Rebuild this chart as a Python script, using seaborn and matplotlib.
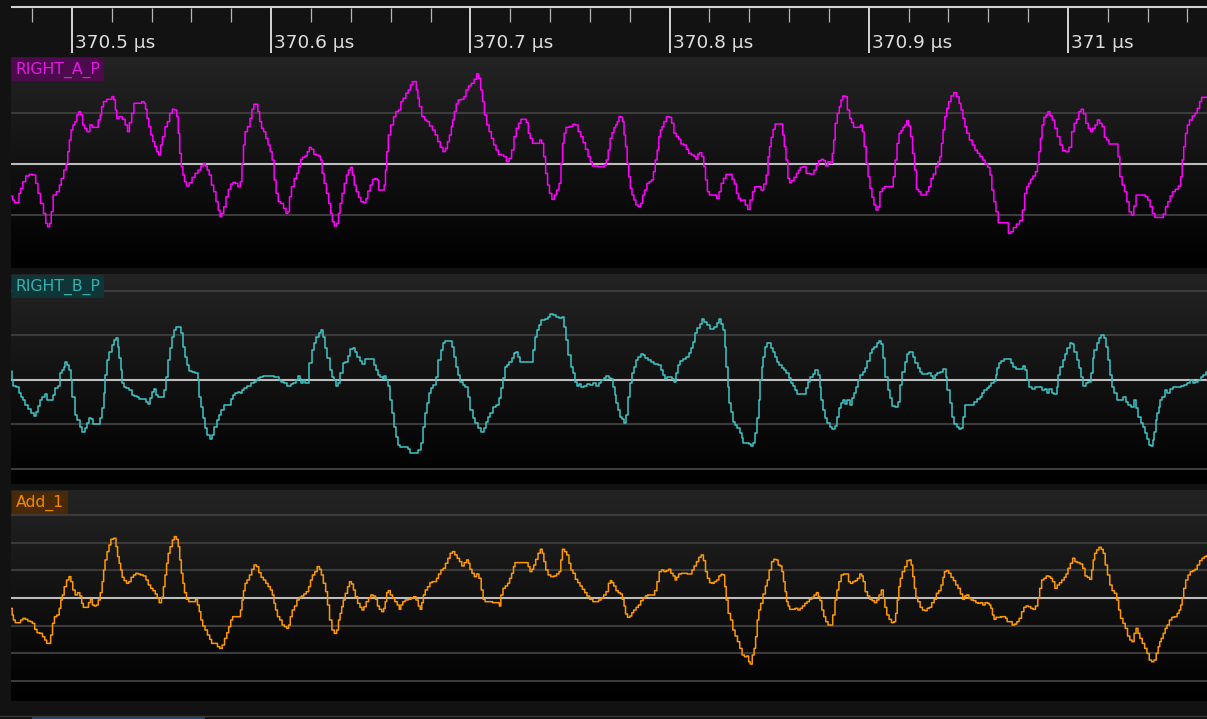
import numpy as np
import matplotlib
matplotlib.use("Agg")
import matplotlib.pyplot as plt
import matplotlib.transforms as mtransforms
from matplotlib.colors import LinearSegmentedColormap
from matplotlib.lines import Line2D
from matplotlib.patches import Rectangle
import seaborn as sns

# ---------------------------------------------------------------- data
# time axis: ns after 370.4 us ; amplitudes in raw counts (per-channel scale below)
T0_US = 370.4

RIGHT_A_P_t_ns = [
    69.8, 70.7, 71.7, 73.1, 73.7, 74.7, 76.0, 77.6, 79.5, 81.1,
    82.5, 83.4, 85.0, 86.4, 87.3, 88.3, 89.3, 89.9, 91.2, 93.2,
    94.2, 95.1, 96.7, 97.5, 98.3, 99.1, 100.0, 101.0, 102.0, 102.9,
    103.9, 104.9, 105.9, 106.8, 108.2, 109.8, 110.7, 112.7, 113.7, 114.7,
    115.1, 116.6, 118.2, 119.6, 120.5, 121.5, 122.1, 122.9, 124.4, 126.0,
    127.4, 128.4, 129.3, 130.7, 131.5, 134.2, 135.8, 136.6, 137.3, 138.1,
    139.1, 140.1, 141.1, 142.0, 143.0, 144.0, 145.0, 145.9, 147.5, 148.3,
    149.8, 151.0, 152.2, 153.0, 153.7, 154.5, 155.3, 156.1, 156.9, 158.1,
    159.6, 161.0, 162.6, 163.9, 165.5, 166.5, 167.4, 168.4, 169.4, 170.6,
    171.7, 172.9, 173.9, 174.8, 175.6, 176.8, 177.9, 179.1, 180.3, 181.4,
    182.6, 184.0, 185.0, 185.7, 186.5, 187.3, 188.9, 189.9, 190.8, 191.8,
    192.8, 193.8, 194.7, 195.7, 196.7, 197.9, 199.0, 200.0, 201.0, 202.0,
    203.0, 204.1, 205.5, 206.9, 208.0, 208.8, 209.6, 210.8, 212.3, 213.3,
    214.3, 215.3, 216.2, 217.6, 218.6, 219.7, 220.7, 222.1, 223.1, 224.4,
    225.2, 226.0, 227.2, 228.3, 229.5, 230.3, 231.1, 232.3, 233.4, 234.2,
    235.0, 236.1, 237.3, 238.3, 239.3, 240.3, 241.2, 242.2, 243.2, 244.6,
    245.5, 247.1, 248.1, 249.0, 250.4, 251.4, 252.9, 253.7, 254.3, 256.3,
    257.2, 257.6, 258.4, 259.2, 260.8, 262.1, 263.1, 264.7, 265.5, 267.0,
    268.2, 269.4, 270.5, 271.3, 272.5, 273.3, 274.0, 274.8, 276.4, 277.8,
    278.7, 280.3, 281.7, 283.0, 284.2, 285.6, 286.9, 288.1, 288.9, 290.1,
    290.8, 291.4, 292.4, 293.4, 294.4, 296.3, 297.3, 298.3, 299.8, 301.2,
    302.6, 303.7, 304.7, 305.7, 306.5, 307.6, 308.8, 310.0, 311.1, 312.3,
    313.5, 314.7, 316.2, 317.4, 318.8, 320.1, 321.3, 322.5, 323.6, 324.8,
    326.0, 327.5, 328.7, 329.5, 330.6, 331.8, 334.4, 335.3, 336.3, 337.3,
    338.3, 339.2, 340.2, 341.6, 342.8, 343.9, 345.1, 345.9, 346.7, 347.4,
    348.6, 350.9, 352.1, 353.3, 354.9, 356.0, 357.2, 358.4, 359.8, 360.7,
    361.7, 366.6, 367.8, 368.6,
    369.8, 370.5, 371.7, 372.5, 373.5, 374.0, 375.2, 376.0, 376.8, 377.5,
    378.3, 379.1, 379.9, 380.7, 381.6, 382.6, 383.6, 384.9, 386.1, 386.9,
    388.0, 389.2, 390.4, 391.5, 392.3, 393.3, 394.2, 395.0, 395.8, 396.6,
    397.7, 399.1, 400.5, 401.6, 402.8, 404.0, 405.1, 406.3, 407.9, 409.0,
    410.2, 411.7, 412.9, 413.7, 414.7, 415.6, 416.8, 417.6, 418.5, 419.5,
    420.5, 423.0, 424.4, 425.3, 426.5, 427.7, 428.9, 430.8, 432.0, 433.1,
    434.1, 435.1, 436.2, 437.4, 438.6, 439.9, 440.9, 442.4, 443.2, 445.2,
    446.7, 447.9, 449.1, 449.8, 450.6, 451.4, 452.5, 453.5, 456.4, 457.2,
    458.0, 458.9, 459.9, 460.7, 461.8, 463.2, 464.2, 465.2, 466.1, 468.1,
    469.0, 471.9, 473.1, 474.3, 475.5, 476.8, 477.8, 478.8, 480.2, 481.3,
    482.1, 482.7, 483.6, 484.8, 485.6, 486.5, 487.5, 488.7, 489.8, 491.0,
    491.8, 492.9, 495.3, 496.3, 497.2, 498.2, 499.2, 500.1, 501.1, 502.1,
    503.1, 504.2, 505.0, 506.2, 507.3, 508.5, 511.8, 512.8, 513.7, 514.7,
    515.7, 516.7, 517.6, 518.6, 519.6, 520.5, 521.5, 522.5, 523.5, 524.4,
    525.6, 526.8, 528.3, 529.5, 530.7, 531.8, 533.0, 534.2, 535.2, 536.1,
    536.9, 537.7, 538.7, 539.6, 540.6, 542.0, 543.3, 544.9, 545.8, 546.8,
    547.8, 548.7, 549.7, 551.3, 552.6, 554.0, 555.1, 556.5, 557.8, 559.0,
    560.4, 561.3, 562.3, 563.3, 564.4, 565.6, 569.5, 570.7, 571.8, 573.4,
    574.9, 576.5, 577.7, 578.8, 579.8, 580.8, 581.7, 583.1, 584.3, 585.1,
    585.8, 586.6, 587.4, 588.5, 589.5, 590.5, 591.5, 592.8, 594.0, 595.3,
    596.7, 597.9, 599.8, 601.2, 602.5, 603.7, 604.9, 606.0, 607.2, 608.4,
    609.5, 610.9, 611.9, 613.0, 614.2, 615.4, 616.5, 617.7, 618.9, 620.0,
    621.2, 624.7, 625.5, 626.6, 627.8, 629.0, 630.1, 631.3, 632.5, 633.6,
    634.8, 638.1, 639.5, 640.7, 641.8, 643.0, 644.2, 647.3, 648.4, 649.6,
    650.7, 651.9, 653.1, 654.6, 656.2, 657.0, 657.7, 658.5, 659.5, 660.4,
    661.6, 663.2, 664.3, 665.5, 666.7, 667.5, 669.9,
]
RIGHT_A_P_counts = [
    -96, -108, -116, -116, -88, -73, -53, -36, -31, -33,
    -58, -88, -118, -148, -178, -188, -178, -143, -93, -83,
    -63, -43, -18, 2, 37, 72, 102, 117, 127, 147,
    157, 147, 117, 107, 97, 117, 110, 110, 132, 147,
    172, 187, 194, 194, 202, 192, 162, 137, 142, 134,
    117, 97, 124, 152, 182, 182, 187, 182, 164, 137,
    112, 87, 67, 52, 37, 27, 57, 82, 112, 127,
    152, 164, 162, 142, 92, 32, -8, -33, -53, -66,
    -56, -40, -28, -18, -6, 2, -6, -18, -33, -63,
    -83, -113, -138, -158, -148, -128, -98, -76, -60, -55,
    -58, -68, -53, 2, 57, 97, 112, 137, 164, 179,
    179, 157, 127, 107, 97, 77, 57, 37, 12, -48,
    -88, -113, -118, -133, -148, -143, -98, -68, -43, -28,
    -8, 14, 20, 24, 37, 50, 44, 29, 27, 24,
    12, -28, -58, -88, -118, -148, -173, -186, -178, -148,
    -118, -88, -58, -33, -18, -10, -33, -63, -83, -100,
    -113, -116, -103, -81, -63, -46, -44, -48, -78, -78,
    -63, -18, 37, 87, 117, 142, 157, 162, 187, 197,
    212, 222, 237, 247, 247, 222, 197, 172, 142, 132,
    127, 114, 102, 87, 67, 50, 37, 47, 67, 87,
    112, 132, 157, 180, 192, 194, 202, 222, 234, 242,
    254, 270, 257, 222, 187, 147, 117, 97, 77, 57,
    42, 29, 27, 22, 7, 17, 42, 82, 107, 122,
    134, 134, 124, 92, 77, 62, 62, 72, 62, 22,
    -28, -63, -88, -106, -93, -78, -58, 2, 62, 92,
    110, 112, 119, 117, 97, 82, 64, 44, 22, 7,
    -6, -8, -3, 12,
    42, 77, 94, 109, 117, 127, 142, 140, 127, 87,
    52, 2, -38, -73, -93, -108, -123, -128, -118, -93,
    -78, -58, -53, -48, -23, 12, 42, 82, 102, 112,
    127, 142, 140, 122, 92, 82, 74, 60, 57, 44,
    32, 27, 22, 14, 30, 34, 22, -8, -48, -83,
    -93, -93, -103, -83, -58, -43, -31, -31, -46, -60,
    -88, -103, -110, -108, -123, -136, -108, -83, -68, -68,
    -78, -60, -33, 22, 52, 80, 104, 120, 120, 87,
    52, 12, -43, -56, -50, -40, -28, -18, -10, -8,
    -28, -30, -18, -3, 10, 14, 10, -6, 7, 2,
    32, 72, 122, 152, 172, 192, 204, 202, 162, 137,
    124, 110, 110, 117, 97, 52, 2, -38, -73, -100,
    -123, -138, -128, -83, -73, -68, -68, -38, 12, 62,
    92, 100, 110, 117, 130, 114, 82, 32, -18, -76,
    -83, -93, -93, -83, -68, -43, -30, -8, 7, 22,
    62, 102, 142, 167, 187, 204, 214, 202, 182, 162,
    137, 112, 92, 72, 57, 42, 32, 22, 12, 0,
    -10, -33, -78, -113, -143, -176, -176, -208, -203, -190,
    -180, -170, -138, -88, -68, -58, -46, -36, -23, 2,
    37, 77, 117, 140, 147, 157, 144, 132, 107, 82,
    57, 40, 37, 50, 97, 122, 134, 157, 164, 150,
    122, 107, 97, 107, 117, 132, 122, 112, 80, 72,
    60, 60, 22, -38, -63, -83, -113, -143, -153, -126,
    -93, -93, -98, -108, -128, -148, -160, -160, -150, -128,
    -113, -96, -83, -76, -66, -38, 12, 52, 92, 117,
    132, 144, 152, 167, 187, 200, 200,
]

RIGHT_B_P_t_ns = [
    69.8, 70.2, 70.8, 72.7, 73.7, 74.7, 76.0, 77.2, 78.5, 79.9,
    81.5, 82.5, 83.4, 84.6, 85.8, 86.9, 87.7, 89.7, 90.8, 92.2,
    93.6, 94.4, 95.5, 96.3, 97.1, 98.1, 99.1, 99.6, 100.6, 102.0,
    103.4, 104.5, 105.9, 106.9, 108.0, 109.2, 110.4, 111.2, 113.7, 114.7,
    115.7, 116.3, 117.0, 118.2, 119.4, 120.5, 121.7, 122.5, 123.3, 124.1,
    124.8, 125.6, 126.4, 128.0, 129.5, 130.7, 131.9, 133.0, 134.2, 136.2,
    137.7, 138.5, 139.7, 140.8, 141.6, 142.8, 144.0, 145.5, 146.7, 147.9,
    148.7, 149.4, 150.6, 151.4, 152.8, 154.1, 155.3, 156.1, 157.3, 158.4,
    159.6, 161.2, 162.7, 163.5, 164.3, 165.1, 166.2, 167.4, 168.6, 169.7,
    170.9, 172.1, 173.3, 174.4, 175.6, 176.8, 179.1, 180.3, 181.0, 182.6,
    183.8, 185.0, 185.9, 186.9, 188.9, 190.5, 191.8, 192.8, 193.8, 195.1,
    196.3, 200.6, 202.2, 203.3, 204.5, 205.7, 207.3, 208.4, 209.4, 210.4,
    211.9, 212.7, 213.9, 214.7, 215.5, 216.2, 217.4, 218.6, 219.7, 220.9,
    222.1, 223.3, 224.4, 225.6, 226.8, 227.6, 228.8, 229.9, 231.1, 232.3,
    233.1, 234.2, 235.4, 236.6, 237.8, 238.9, 240.1, 241.7, 242.6, 243.6,
    245.2, 246.3, 247.5, 251.0, 251.8, 253.0, 254.1, 255.3, 256.5, 257.2,
    258.4, 259.2, 260.2, 261.1, 262.1, 263.1, 264.3, 265.4, 268.0, 269.0,
    270.5, 272.9, 274.4, 275.8, 276.8, 277.7, 278.7, 279.9, 280.7, 282.2,
    283.4, 284.6, 285.6, 286.5, 288.1, 290.4, 291.4, 292.4, 293.4, 294.4,
    295.5, 296.7, 298.3, 299.4, 300.6, 301.8, 302.9, 304.5, 306.0, 307.2,
    308.4, 309.5, 310.7, 311.9, 313.5, 314.8, 315.8, 317.0, 317.8, 318.9,
    320.1, 321.3, 322.5, 323.2, 324.4, 325.6, 331.0, 331.8, 333.0, 333.8,
    334.9, 336.3, 338.2, 339.6, 340.8, 342.1, 343.5, 345.5, 346.7, 347.4,
    348.6, 349.8, 350.9, 352.1, 352.9, 354.1, 354.9, 356.0, 357.8, 359.1,
    360.7, 362.7, 363.9, 365.0, 366.2, 367.6, 368.9,
    369.8, 371.0, 371.9, 372.9, 373.8, 374.8, 375.8, 376.8, 377.7, 378.7,
    379.7, 380.6, 381.6, 382.6, 383.8, 384.9, 386.1, 387.4, 388.4, 390.0,
    391.3, 392.7, 395.2, 396.2, 397.2, 398.1, 399.7, 400.9, 402.0, 402.8,
    403.6, 404.7, 405.9, 407.8, 409.0, 410.6, 411.3, 412.1, 413.3, 414.5,
    415.6, 416.6, 418.0, 419.5, 421.5, 423.0, 424.4, 425.3, 426.3, 427.3,
    428.1, 428.8, 429.6, 430.4, 431.2, 432.1, 433.5, 434.7, 435.8, 436.6,
    437.4, 438.9, 440.5, 441.2, 442.4, 443.6, 444.4, 445.1, 445.9, 446.7,
    447.5, 448.3, 449.1, 450.6, 451.4, 452.2, 453.5, 454.5, 455.7, 456.8,
    458.0, 459.3, 460.3, 461.5, 462.6, 463.8, 464.6, 467.7, 468.9, 470.0,
    471.2, 472.4, 473.9, 475.1, 475.9, 476.6, 477.4, 478.4, 479.7, 480.9,
    482.5, 483.6, 484.6, 485.6, 486.5, 487.5, 488.7, 489.8, 491.0, 491.8,
    492.9, 494.1, 495.3, 496.4, 497.6, 498.8, 499.9, 501.1, 502.3, 503.4,
    504.6, 505.4, 506.5, 507.7, 508.9, 510.1, 511.2, 512.4, 514.3, 515.1,
    516.3, 517.4, 518.6, 519.8, 520.5, 521.7, 522.9, 524.0, 525.2, 526.4,
    527.5, 529.3, 530.3, 531.8, 532.6, 533.8, 535.2, 536.5, 538.1, 539.0,
    540.0, 541.2, 542.3, 543.5, 544.9, 545.8, 547.0, 548.1, 548.9, 552.4,
    553.6, 555.2, 556.3, 557.5, 558.7, 559.8, 561.0, 562.2, 563.3, 564.1,
    564.9, 565.7, 567.2, 568.8, 570.7, 572.0, 573.0, 574.6, 576.9, 578.1,
    579.2, 580.0, 581.2, 582.3, 584.3, 586.2, 587.6, 588.9, 590.1, 591.3,
    592.4, 594.0, 594.7, 595.5, 596.7, 597.9, 599.0, 600.2, 601.4, 602.5,
    603.7, 604.9, 606.0, 607.2, 608.4, 609.5, 610.9, 611.9, 612.8, 613.8,
    615.0, 616.1, 617.3, 618.7, 619.6, 620.6, 621.6, 622.7, 623.9, 625.5,
    627.0, 628.4, 629.7, 630.9, 632.3, 633.6, 634.8, 635.9, 637.1, 638.3,
    639.1, 640.0, 641.0, 642.0, 643.0, 643.7, 644.5, 645.3, 646.0, 646.8,
    648.0, 649.1, 650.7, 651.9, 653.6, 655.6, 657.5, 658.9, 660.4, 662.0,
    663.3, 664.7, 665.9, 667.2, 668.6, 669.8,
]
RIGHT_B_P_counts = [
    28, 0, -18, -20, -40, -52, -60, -75, -88, -98,
    -108, -95, -78, -60, -50, -42, -60, -60, -45, -25,
    -18, 22, 30, 40, 55, 45, 30, 0, -50, -105,
    -120, -140, -155, -145, -128, -115, -118, -132, -132, -115,
    -85, -40, 15, 60, 85, 105, 120, 125, 100, 65,
    30, -8, -22, -25, -30, -45, -48, -52, -58, -58,
    -65, -72, -55, -35, -28, -45, -50, -50, -30, 10,
    60, 95, 128, 150, 160, 160, 140, 100, 68, 45,
    28, 25, 22, 0, -50, -80, -115, -145, -165, -178,
    -165, -140, -120, -105, -90, -75, -75, -58, -45, -40,
    -35, -40, -30, -25, -18, -10, -5, 0, 5, 8,
    12, 12, 8, 10, 0, -5, -10, -18, -18, -12,
    -8, 0, 12, 2, -8, 0, -8, -10, 50, 90,
    110, 130, 140, 150, 130, 95, 65, 30, 10, 0,
    -18, -10, 20, 50, 55, 72, 92, 95, 85, 70,
    58, 48, 62, 62, 45, 30, 15, 8, 2, 12,
    0, -18, -60, -100, -140, -170, -195, -200, -200, -208,
    -218, -220, -210, -190, -140, -100, -70, -40, -25, -15,
    10, 60, 90, 110, 118, 118, 100, 70, 40, 15,
    -5, -15, -22, -50, -90, -115, -130, -145, -155, -145,
    -125, -110, -98, -82, -75, -55, -25, 5, 40, 45,
    55, 65, 80, 85, 70, 55, 55, 90, 130, 150,
    165, 180, 182, 190, 198, 195, 188, 185, 190, 160,
    120, 75, 40, 20, -5, -18, -12, -20, -18, -12,
    -15, -10, -18, -10, 0, 5, 12,
    5, 2, -20, -45, -70, -90, -110, -118, -130, -105,
    -50, -10, 20, 40, 60, 68, 78, 75, 65, 60,
    55, 48, 45, 30, 15, 2, 8, 10, 2, -5,
    20, 45, 58, 62, 70, 82, 95, 115, 140, 155,
    168, 182, 175, 165, 152, 158, 170, 182, 168, 150,
    100, 40, -20, -70, -95, -125, -135, -145, -160, -175,
    -188, -190, -192, -198, -190, -160, -115, -60, 0, 40,
    70, 100, 110, 110, 95, 85, 70, 55, 45, 35,
    30, 20, 5, -8, -18, -30, -42, -42, -25, -5,
    10, 18, 30, 15, -22, -60, -90, -115, -130, -142,
    -148, -138, -110, -85, -70, -60, -72, -60, -75, -55,
    -38, -20, 0, 15, 25, 35, 58, 80, 92, 100,
    110, 118, 108, 65, 10, -30, -55, -78, -82, -65,
    -15, 25, 55, 78, 85, 85, 70, 50, 35, 25,
    18, 18, 22, 12, 2, 15, 22, 25, 32, 10,
    -30, -70, -110, -132, -140, -148, -145, -110, -75, -75,
    -65, -58, -50, -40, -30, -25, -18, -10, -2, 15,
    35, 50, 58, 62, 62, 52, 40, 32, 32, 42,
    30, 0, -22, -28, -22, -22, -30, -28, -40, -28,
    -40, -42, -20, 15, 40, 60, 78, 95, 110, 108,
    85, 60, 35, 10, -18, -10, -5, 20, 65, 90,
    110, 125, 135, 125, 100, 60, 15, -22, -40, -60,
    -60, -52, -65, -75, -82, -60, -85, -110, -128, -140,
    -160, -178, -195, -198, -180, -155, -120, -100, -80, -60,
    -50, -30, -38, -28, -20, -20, -18, -15, -8, 0,
    -8, -5, 0, 8, 15, 25,
]

Add_1_t_ns = [
    69.8, 70.2, 71.0, 72.1, 73.7, 74.8, 76.0, 77.2, 78.5, 79.5,
    80.7, 81.9, 83.0, 84.6, 85.8, 86.9, 87.7, 88.9, 89.7, 90.8,
    91.6, 93.2, 94.0, 94.8, 95.5, 96.7, 97.9, 99.1, 99.8, 101.0,
    102.2, 103.4, 104.5, 105.3, 106.1, 107.8, 108.8, 109.8, 110.7, 111.7,
    112.7, 113.7, 114.7, 115.6, 116.2, 117.0, 118.2, 119.0, 120.1, 121.7,
    122.5, 123.3, 124.1, 124.8, 125.6, 126.8, 128.0, 129.1, 130.3, 131.5,
    132.6, 133.8, 135.0, 136.6, 137.7, 138.9, 140.1, 141.2, 142.4, 143.2,
    144.4, 145.5, 146.3, 147.1, 147.9, 148.7, 149.8, 151.0, 151.8, 153.0,
    153.7, 154.5, 155.3, 156.1, 156.9, 158.1, 159.2, 161.6, 162.5, 163.5,
    164.3, 165.1, 166.2, 167.4, 168.6, 169.7, 170.5, 172.5, 173.6, 174.8,
    176.0, 177.2, 178.3, 179.1, 180.3, 181.0, 184.2, 185.0, 185.7, 186.5,
    187.3, 188.5, 189.7, 190.8, 192.0, 193.2, 194.4, 195.5, 196.7, 197.9,
    199.0, 200.2, 201.0, 201.8, 202.6, 203.7, 204.9, 206.1, 207.2, 208.4,
    209.2, 210.0, 211.1, 212.3, 213.5, 214.7, 215.8, 217.0, 218.2, 219.4,
    220.1, 221.3, 222.5, 223.7, 224.8, 225.6, 226.8, 227.9, 228.7, 229.9,
    231.1, 232.3, 233.4, 234.2, 235.0, 235.8, 236.6, 237.8, 238.9, 239.7,
    240.9, 241.7, 242.8, 244.0, 245.2, 246.0, 247.1, 248.3, 249.5, 250.6,
    251.8, 253.0, 253.7, 254.9, 256.1, 256.9, 257.6, 258.4, 259.2, 260.4,
    261.5, 262.7, 263.9, 264.7, 265.5, 266.6, 268.0, 269.4, 270.9, 272.1,
    273.3, 274.4, 275.2, 276.0, 276.8, 277.9, 279.1, 280.3, 281.4, 282.6,
    283.4, 284.6, 285.8, 286.9, 288.1, 289.3, 290.4, 291.6, 292.8, 294.0,
    295.1, 296.3, 297.5, 298.7, 299.4, 300.2, 301.4, 302.6, 303.7, 304.9,
    306.0, 306.8, 308.0, 314.3, 314.8, 315.8, 317.0, 318.1, 319.3, 320.1,
    321.3, 322.0, 322.8, 328.5, 329.5, 330.4, 331.4, 332.2, 333.4, 334.5,
    335.7, 336.5, 337.3, 338.4, 339.6, 341.2, 342.7, 343.9, 345.1, 345.7,
    346.7, 347.8, 349.0, 350.0, 350.9, 352.1, 353.3, 354.5, 355.6, 356.8,
    358.0, 359.1, 360.7, 362.3, 363.8, 365.0, 366.2, 367.6, 368.6,
    370.0, 370.6, 371.4, 372.5, 373.7, 374.8, 375.8, 376.8, 377.5, 378.3,
    379.5, 380.7, 381.4, 382.6, 383.8, 384.9, 386.1, 387.3, 388.4, 389.6,
    391.9, 393.1, 394.2, 395.4, 396.6, 397.7, 398.9, 400.1, 401.2, 402.4,
    403.2, 404.0, 405.1, 406.9, 410.8, 411.7, 412.9, 414.1, 415.3, 416.4,
    417.6, 418.5, 419.5, 420.7, 421.8, 423.0, 424.2, 425.3, 426.5, 427.3,
    428.1, 428.8, 430.0, 431.2, 432.3, 433.5, 434.7, 435.8, 437.0, 438.2,
    439.3, 440.1, 440.9, 442.1, 442.8, 443.6, 444.4, 445.2, 446.3, 447.5,
    448.7, 449.4, 450.6, 451.8, 452.9, 454.1, 454.9, 456.0, 456.8, 457.6,
    458.4, 459.1, 459.9, 460.7, 462.3, 463.8, 465.0, 466.1, 467.3, 468.5,
    469.6, 470.8, 472.0, 473.1, 474.3, 475.1, 475.9, 477.0, 477.8, 479.0,
    480.1, 481.3, 482.5, 483.6, 484.4, 485.6, 486.7, 487.9, 489.5, 490.2,
    491.4, 492.6, 493.7, 494.9, 496.1, 496.8, 497.6, 498.8, 499.9, 501.1,
    502.3, 503.4, 504.6, 505.7, 506.9, 507.7, 508.5, 509.6, 510.8, 512.0,
    513.1, 513.9, 514.7, 515.5, 516.2, 517.4, 518.6, 519.8, 520.9, 521.7,
    522.5, 523.3, 524.0, 525.2, 526.4, 527.5, 528.7, 529.9, 531.0, 532.2,
    533.4, 534.5, 535.7, 536.9, 537.6, 538.4, 539.6, 540.7, 541.9, 543.1,
    544.2, 545.4, 546.6, 547.7, 548.5, 549.7, 550.8, 552.0, 553.2, 554.3,
    555.5, 556.7, 557.8, 559.0, 560.2, 560.9, 561.7, 562.5, 563.3, 564.4,
    568.3, 569.1, 569.9, 571.4, 572.6, 573.8, 574.9, 576.1, 577.3, 578.4,
    579.6, 580.8, 581.9, 583.1, 584.3, 585.4, 586.2, 587.4, 588.5, 589.7,
    590.9, 591.7, 592.8, 594.0, 595.2, 596.3, 597.5, 598.7, 599.4, 600.6,
    601.8, 602.9, 604.1, 605.3, 606.8, 608.0, 609.1, 610.3, 611.5, 612.3,
    613.0, 613.8, 615.0, 616.1, 617.3, 618.1, 619.3, 620.4, 621.6, 622.7,
    623.9, 625.1, 625.8, 627.0, 628.2, 629.3, 630.5, 631.6, 632.8, 633.6,
    634.8, 635.5, 636.7, 637.9, 639.1, 640.2, 641.4, 642.6, 643.7, 644.9,
    645.7, 646.4, 647.2, 648.4, 649.2, 650.3, 651.5, 652.7, 654.2, 655.4,
    656.2, 657.0, 657.7, 658.5, 659.7, 660.8, 662.0, 663.2, 664.3, 665.5,
    666.7, 667.9, 669.0, 669.8,
]
Add_1_counts = [
    -31, -51, -66, -74, -74, -66, -61, -64, -69, -71,
    -76, -94, -104, -106, -116, -126, -136, -136, -111, -76,
    -56, -51, -31, -6, 9, 34, 54, 64, 49, 24,
    9, 16, 6, -16, -28, -28, -14, -4, -21, -24,
    -21, -6, 16, 49, 84, 114, 139, 159, 176, 179,
    154, 124, 104, 84, 62, 52, 44, 49, 62, 69,
    74, 72, 69, 66, 54, 39, 29, 22, 12, -1,
    -14, 2, 34, 69, 104, 134, 154, 174, 184, 176,
    154, 114, 74, 44, 16, -4, -11, -11, -4, -21,
    -41, -66, -84, -96, -111, -124, -136, -136, -146, -151,
    -141, -121, -104, -86, -66, -56, -56, -36, -6, 22,
    44, 54, 69, 86, 99, 94, 76, 62, 54, 44,
    34, 24, 9, -16, -36, -56, -66, -81, -86, -91,
    -81, -56, -36, -24, -6, 2, 6, 12, 19, 34,
    54, 69, 79, 94, 86, 69, 44, 19, -21, -66,
    -96, -106, -96, -66, -46, -26, -6, 14, 34, 49,
    42, 24, 4, -16, -28, -36, -26, -11, -1, 9,
    6, -4, -24, -34, -41, -31, -11, 16, 22, 9,
    -1, -11, -21, -34, -21, -11, -6, -4, -1, 4,
    -6, -24, -34, -14, 9, 24, 34, 46, 49, 49,
    59, 72, 84, 89, 104, 119, 134, 139, 129, 119,
    109, 96, 106, 114, 104, 86, 74, 64, 72, 59,
    24, -4, -11, -14, -24, 9, 29, 36, 44, 59,
    74, 94, 106, 106, 94, 79, 86, 99, 116, 134,
    146, 134, 109, 84, 69, 64, 66, 72, 79, 114,
    146, 139, 129, 104, 84, 74, 56, 46, 36, 26,
    16, 6, -4, -11, -11, -6, -1, 9, 19,
    44, 52, 46, 36, 22, 16, 12, -4, -24, -48,
    -58, -54, -44, -36, -28, -21, -8, -1, 6, 9,
    9, 22, 49, 79, 84, 79, 82, 86, 74, 66,
    54, 62, 72, 74, 72, 84, 96, 109, 122, 129,
    112, 79, 59, 46, 44, 49, 54, 66, 71, 69,
    34, -6, -46, -66, -96, -114, -131, -151, -171, -176,
    -174, -191, -198, -171, -151, -116, -66, -36, -16, 12,
    36, 54, 84, 109, 116, 114, 99, 96, 79, 49,
    19, -11, -24, -34, -34, -31, -36, -31, -24, -16,
    -11, -4, 2, 9, 16, 4, -8, -36, -56, -71,
    -81, -81, -51, -6, 24, 49, 69, 72, 72, 49,
    44, 49, 52, 59, 72, 66, 49, 19, 6, -4,
    -8, -14, -6, 9, 24, -1, -28, -51, -64, -74,
    -71, -46, -6, 34, 59, 79, 94, 112, 114, 99,
    64, 29, 2, -11, -28, -36, -38, -31, -28, -14,
    -4, 14, 22, 39, 62, 79, 82, 74, 62, 52,
    39, 29, 12, -4, 6, 9, -1, -6, -8, -14,
    -16, -14, -21, -14, -16, -21, -31, -51, -64, -58,
    -56, -61, -71, -71, -81, -78, -71, -61, -41, -28,
    -24, -26, -31, -34, -24, -1, 29, 54, 59, 66,
    64, 59, 49, 29, 39, 46, 54, 62, 72, 89,
    104, 119, 109, 106, 102, 89, 66, 62, 56, 84,
    114, 134, 144, 152, 146, 134, 99, 69, 39, 22,
    14, -6, -36, -61, -76, -91, -114, -126, -131, -106,
    -91, -106, -121, -136, -151, -166, -186, -191, -186, -166,
    -146, -131, -121, -106, -91, -81, -66, -58, -56, -46,
    -36, -21, -1, 29, 54, 69, 79, 82, 86, 99,
    112, 119, 124, 126,
]

CHANNELS = ["RIGHT_A_P", "RIGHT_B_P", "Add_1"]
COUNTS_PER_DIV = [152.0, 133.5, 83.0]
GRID_DIVS = [[-1, 0, 1], [-2, -1, 0, 1, 2], [-3, -2, -1, 0, 1, 2, 3]]
MAJOR_TICKS_US = [370.5, 370.6, 370.7, 370.8, 370.9, 371.0]
MAJOR_TICK_LABELS = ["370.5 µs", "370.6 µs", "370.7 µs", "370.8 µs", "370.9 µs", "371 µs"]
MINOR_TICKS_US = [370.48, 370.52, 370.54, 370.56, 370.58, 370.62, 370.64, 370.66, 370.68,
                  370.72, 370.74, 370.76, 370.78, 370.82, 370.84, 370.86, 370.88,
                  370.92, 370.94, 370.96, 370.98, 371.02, 371.04, 371.06]

series_t = [RIGHT_A_P_t_ns, RIGHT_B_P_t_ns, Add_1_t_ns]
series_v = [RIGHT_A_P_counts, RIGHT_B_P_counts, Add_1_counts]
for n, tt, vv in zip(CHANNELS, series_t, series_v):
    if len(tt) != len(vv):
        raise SystemExit(f"length mismatch {n}: {len(tt)} vs {len(vv)}")

# ---------------------------------------------------------------- style
sns.set_theme(style="dark")
plt.rcParams["font.family"] = ["DejaVu Sans"]

LINE_COLORS = ["#ff00ff", "#3ec6c6", "#ff9900"]
LABEL_FG = ["#e01be0", "#3aaeae", "#f08a00"]
LABEL_BG = ["#4c0b4c", "#0f3636", "#4a2a06"]
FIG_BG = "#121212"

W, H = 1207.0, 719.0
fig = plt.figure(figsize=(W / 100, H / 100), dpi=100)
fig.patch.set_facecolor(FIG_BG)


def px_axes(x0, y0, x1, y1):
    return fig.add_axes([x0 / W, 1 - y1 / H, (x1 - x0) / W, (y1 - y0) / H])


XLIM = (T0_US + 69.4 / 1000, T0_US + 669.8 / 1000)

# ---------------------------------------------------------------- ruler
rul = px_axes(11, 0, 1207, 57)
rul.set_xlim(*XLIM)
rul.set_ylim(57, 0)
rul.axis("off")
rul.axhline(6.7, color="#d2d2d2", lw=1.5)
rul.vlines(MAJOR_TICKS_US, 7.5, 52.5, color="#d6d6d6", lw=1.4)
rul.vlines(MINOR_TICKS_US, 7.5, 21.5, color="#b4b4b4", lw=0.9)
lab_tr = mtransforms.offset_copy(rul.transData, fig=fig, x=3, y=0, units="dots")
for tx, lab in zip(MAJOR_TICKS_US, MAJOR_TICK_LABELS):
    rul.text(tx, 48.5, lab, transform=lab_tr, color="#dedede", fontsize=13.3,
             ha="left", va="baseline")

# ---------------------------------------------------------------- panels
PANEL_PX = [(57, 268), (274, 484), (490, 701)]
YLIMS = [(-2.05, 2.11), (-2.34, 2.38), (-3.72, 3.90)]
bg_cmap = LinearSegmentedColormap.from_list("panelbg", ["#242424", "#000000"])
grad = np.linspace(0, 1, 256).reshape(-1, 1)

for i, name in enumerate(CHANNELS):
    y0, y1 = PANEL_PX[i]
    ax = px_axes(11, y0, 1207, y1)
    ax.imshow(grad, extent=[0, 1, 0, 1], transform=ax.transAxes, cmap=bg_cmap,
              aspect="auto", zorder=0, interpolation="bilinear")
    for g in GRID_DIVS[i]:
        if g == 0:
            ax.axhline(g, color="#bdbdbd", lw=1.5, zorder=1)
        else:
            ax.axhline(g, color="#3b3b3b", lw=1.5, zorder=1)

    t_us = T0_US + np.asarray(series_t[i]) / 1000.0
    v_div = np.asarray(series_v[i], dtype=float) / COUNTS_PER_DIV[i]
    sns.lineplot(x=t_us, y=v_div, ax=ax, color=LINE_COLORS[i], linewidth=1.1,
                 estimator=None, sort=False, drawstyle="steps-mid", zorder=3,
                 legend=False)

    ax.set_xlim(*XLIM)
    ax.set_ylim(*YLIMS[i])
    ax.axis("off")

    tr = mtransforms.offset_copy(ax.transAxes, fig=fig, x=4.5, y=-4.5, units="dots")
    ax.text(0, 1, name, transform=tr, color=LABEL_FG[i], fontsize=11.3,
            ha="left", va="top", zorder=6,
            bbox=dict(boxstyle="square,pad=0.24", fc=LABEL_BG[i], ec="none"))

# ---------------------------------------------------------------- bottom strip
fig.add_artist(Line2D([0, 1], [1 - 715.5 / H] * 2, color="#383838", lw=1.0))
fig.add_artist(Rectangle((32 / W, 0), 173 / W, 2.2 / H, color="#1d4675", lw=0))

fig.savefig("out.png", dpi=100, facecolor=FIG_BG)
